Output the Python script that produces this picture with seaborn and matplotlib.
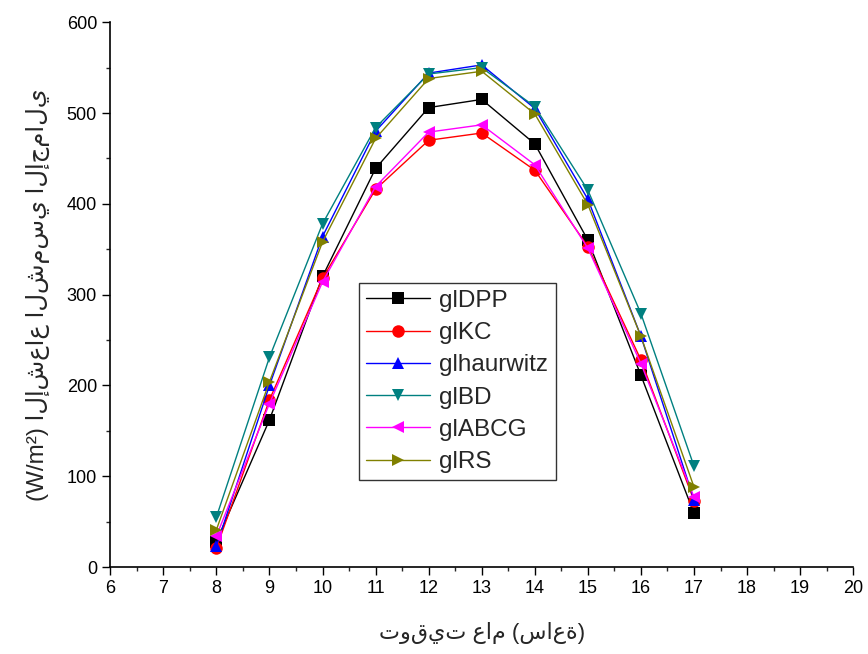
import matplotlib
matplotlib.use("Agg")
import matplotlib.pyplot as plt
import pandas as pd
import seaborn as sns
from matplotlib.ticker import MultipleLocator

# Data
hours = [8, 9, 10, 11, 12, 13, 14, 15, 16, 17]
gl_dpp = [28, 162, 320, 439, 506, 515, 466, 360, 211, 59]
gl_kc = [21, 184, 318, 416, 470, 478, 437, 353, 228, 73]
gl_haurwitz = [23, 200, 364, 480, 544, 553, 505, 405, 254, 74]
gl_bd = [55, 231, 378, 484, 543, 550, 507, 415, 279, 111]
gl_abcg = [34, 180, 314, 419, 479, 487, 443, 351, 224, 77]
gl_rs = [41, 204, 358, 472, 538, 546, 499, 399, 254, 88]

names = ["glDPP", "glKC", "glhaurwitz", "glBD", "glABCG", "glRS"]
colors = ["#000000", "#ff0000", "#0000ff", "#008080", "#ff00ff", "#808000"]
markers = ["s", "o", "^", "v", "<", ">"]

series = [gl_dpp, gl_kc, gl_haurwitz, gl_bd, gl_abcg, gl_rs]
frames = []
for name, vals in zip(names, series):
    frames.append(pd.DataFrame({"hour": hours, "value": vals, "model": name}))
df = pd.concat(frames, ignore_index=True)

sns.set_style("ticks")
plt.rcParams['font.family'] = ['Liberation Sans', 'DejaVu Sans']

fig = plt.figure(figsize=(8.68, 6.54), dpi=100)
ax = fig.add_axes([0.127, 0.133, 0.856, 0.833])

sns.lineplot(data=df, x="hour", y="value", hue="model", style="model",
             palette=dict(zip(names, colors)), markers=dict(zip(names, markers)),
             dashes=False, linewidth=1, markersize=9, markeredgewidth=0,
             ax=ax, legend=False)

ax.set_xlim(6, 20)
ax.set_ylim(0, 600)
ax.xaxis.set_major_locator(MultipleLocator(1))
ax.xaxis.set_minor_locator(MultipleLocator(0.5))
ax.yaxis.set_major_locator(MultipleLocator(100))
ax.yaxis.set_minor_locator(MultipleLocator(50))
ax.tick_params(which="major", direction="out", length=6, width=1, labelsize=13, colors="black")
ax.tick_params(which="minor", direction="out", length=3, width=1)
sns.despine(ax=ax)
for s in ["left", "bottom"]:
    ax.spines[s].set_linewidth(1.2)
    ax.spines[s].set_color("black")

ax.set_xlabel("توقيت عام (ساعة)", fontsize=16, labelpad=18)
ax.set_ylabel("(W/m²) الإشعاع الشمسي الإجمالي", fontsize=17.5, labelpad=12)

handles = [plt.Line2D([], [], color=c, marker=m, markersize=9, markeredgewidth=0, linewidth=1)
           for c, m in zip(colors, markers)]
leg = ax.legend(handles, names, loc="upper left", bbox_to_anchor=(0.335, 0.522),
                fontsize=17.5, frameon=True, fancybox=False, edgecolor="black",
                handlelength=2.6, labelspacing=0.42, borderpad=0.3, handletextpad=0.4,
                borderaxespad=0)
leg.get_frame().set_linewidth(1)

fig.savefig("out.png", dpi=100)
